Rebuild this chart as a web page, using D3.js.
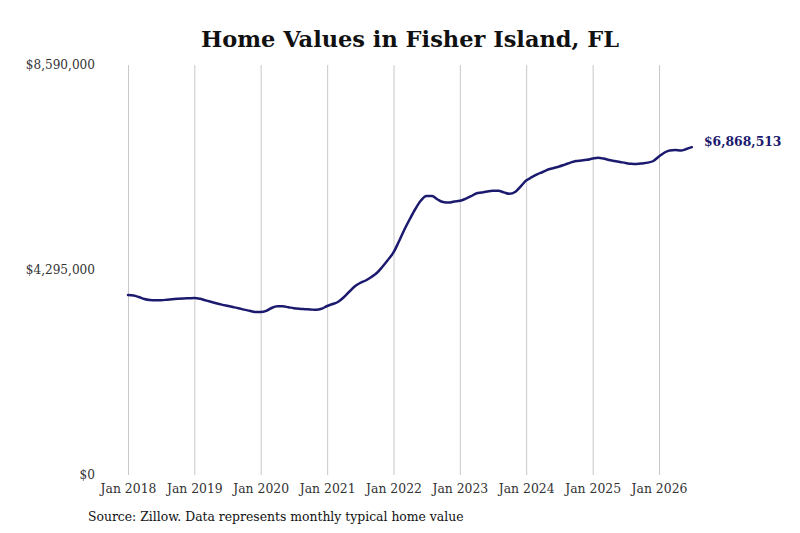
<!DOCTYPE html>
<html>
<head>
<meta charset="utf-8">
<script src="https://cdn.jsdelivr.net/npm/d3@7"></script>
<style>
  body { margin: 0; background: #fff; }
  svg { display: block; font-family: "DejaVu Serif", serif; }
</style>
</head>
<body>
<svg id="chart" width="800" height="533"></svg>
<script>
// monthly typical home value, Jan 2018 .. Jul 2026
const startYear = 2018;
const homeValues = [
    3771000, 3761000, 3729000, 3687000, 3666000, 3660000, 3662000, 3671000, 3683000, 3692000, 3700000, 3704000,
    3708000, 3692000, 3662000, 3629000, 3599000, 3570000, 3545000, 3520000, 3495000, 3465000, 3440000, 3415000,
    3415000, 3440000, 3499000, 3534000, 3534000, 3516000, 3495000, 3482000, 3474000, 3467000, 3461000, 3482000,
    3541000, 3583000, 3625000, 3719000, 3834000, 3949000, 4023000, 4075000, 4148000, 4232000, 4362000, 4504000,
    4662000, 4903000, 5133000, 5363000, 5573000, 5751000, 5845000, 5845000, 5772000, 5720000, 5709000, 5730000,
    5745000, 5787000, 5835000, 5898000, 5919000, 5940000, 5954000, 5954000, 5921000, 5891000, 5929000, 6044000,
    6170000, 6239000, 6296000, 6348000, 6400000, 6432000, 6463000, 6503000, 6545000, 6579000, 6589000, 6604000,
    6629000, 6646000, 6629000, 6600000, 6579000, 6558000, 6537000, 6520000, 6516000, 6528000, 6545000, 6579000,
    6673000, 6757000, 6801000, 6809000, 6797000, 6830000, 6868513
];
const yTicks = [0, 4295000, 8590000];
const xTickYears = [2018, 2019, 2020, 2021, 2022, 2023, 2024, 2025, 2026];

const svg = d3.select("#chart");
const margin = { top: 65, right: 108, bottom: 58, left: 128 };
const width = +svg.attr("width");
const height = +svg.attr("height");
const innerWidth = width - margin.left - margin.right;
const innerHeight = height - margin.top - margin.bottom;

const data = homeValues.map((v, i) => ({ date: new Date(startYear, i, 1), value: v }));

const x = d3.scaleTime()
    .domain([new Date(2018, 0, 1), new Date(2026, 0, 1)])
    .range([0, 531]);
const y = d3.scaleLinear().domain([0, 8590000]).range([innerHeight, 0]);

const g = svg.append("g").attr("transform", `translate(${margin.left},${margin.top})`);

// title
svg.append("text")
    .attr("x", 410)
    .attr("y", 47)
    .attr("text-anchor", "middle")
    .attr("font-size", 22.5)
    .attr("font-weight", "bold")
    .attr("fill", "#111")
    .text("Home Values in Fisher Island, FL");

// vertical grid + x labels
const xTicks = xTickYears.map(yr => new Date(yr, 0, 1));
const xAxis = d3.axisBottom(x)
    .tickValues(xTicks)
    .tickSize(-innerHeight)
    .tickPadding(9)
    .tickFormat(d3.timeFormat("Jan %Y"));

g.append("g")
    .attr("class", "x-axis")
    .attr("transform", `translate(0,${innerHeight})`)
    .call(xAxis)
    .attr("font-family", "DejaVu Serif, serif")
    .attr("font-size", 12.4)
    .call(a => a.select(".domain").remove())
    .call(a => a.selectAll("line").attr("stroke", "#c8c8c8"))
    .call(a => a.selectAll("text").attr("fill", "#333"));

// y labels (no grid)
const yAxis = d3.axisLeft(y)
    .tickValues(yTicks)
    .tickSize(0)
    .tickPadding(33)
    .tickFormat(d => "$" + d3.format(",")(d));

g.append("g")
    .attr("class", "y-axis")
    .call(yAxis)
    .attr("font-family", "DejaVu Serif, serif")
    .attr("font-size", 12.1)
    .call(a => a.select(".domain").remove())
    .call(a => a.selectAll("text").attr("fill", "#333"));

// line
const line = d3.line()
    .x(d => x(d.date))
    .y(d => y(d.value))
    .curve(d3.curveMonotoneX);

g.append("path")
    .datum(data)
    .attr("fill", "none")
    .attr("stroke", "#1c1a6e")
    .attr("stroke-width", 2.5)
    .attr("stroke-linejoin", "round")
    .attr("stroke-linecap", "round")
    .attr("d", line);

// end label
const last = data[data.length - 1];
g.append("text")
    .attr("x", x(last.date) + 12)
    .attr("y", y(last.value) - 6)
    .attr("dy", "0.35em")
    .attr("font-size", 12.4)
    .attr("font-weight", "bold")
    .attr("fill", "#1c1a6e")
    .text("$" + d3.format(",")(last.value));

// source
svg.append("text")
    .attr("x", 88)
    .attr("y", 521)
    .attr("font-size", 12.4)
    .attr("fill", "#111")
    .text("Source: Zillow. Data represents monthly typical home value");
</script>
</body>
</html>
